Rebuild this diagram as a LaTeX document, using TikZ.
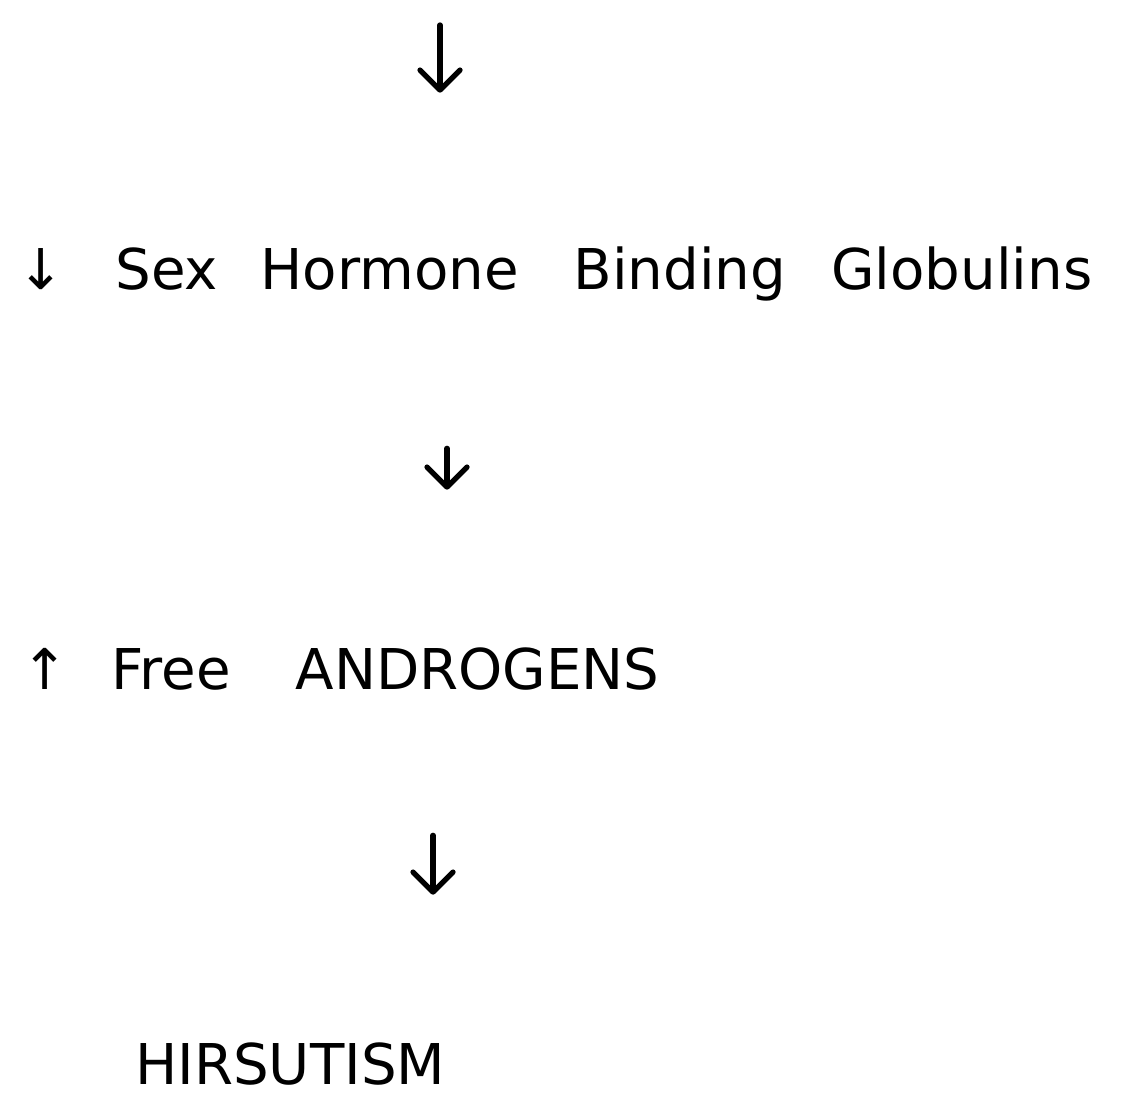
\documentclass[tikz,border=0pt]{standalone}
\usepackage{fontspec}
\setmainfont{DejaVu Sans}
\usetikzlibrary{arrows.meta}

\begin{document}
\begin{tikzpicture}[x=0.02cm,y=-0.02cm,
  hand/.style={anchor=base west,inner sep=0pt,text height=0.9cm,text depth=0.15cm,font=\fontsize{32}{38}\selectfont},
  flow/.style={-{Straight Barb[length=0.4cm,width=0.8cm,round]},line width=3pt,line cap=round}]

\useasboundingbox (0,0) rectangle (1121,1096);

\node[hand] (shbg) at (17,289) {↓\hspace{1.02cm}Sex\hspace{0.85cm}Hormone\hspace{1.1cm}Binding\hspace{0.9cm}Globulins};
\node[hand] (free) at (21,689) {↑\hspace{0.86cm}Free\hspace{1.3cm}ANDROGENS};
\node[hand] (hirs) at (135,1084) {HIRSUTISM};

\coordinate (top) at (440,25);

\draw[flow,shorten >=3.02cm] (top) -- (shbg.north -| top);
\draw[flow,shorten <=3.03cm,shorten >=3.08cm] (shbg.south -| 447,0) -- (free.north -| 447,0);
\draw[flow,shorten <=2.77cm,shorten >=2.88cm] (free.south -| 433,0) -- (hirs.north -| 433,0);

\end{tikzpicture}
\end{document}
